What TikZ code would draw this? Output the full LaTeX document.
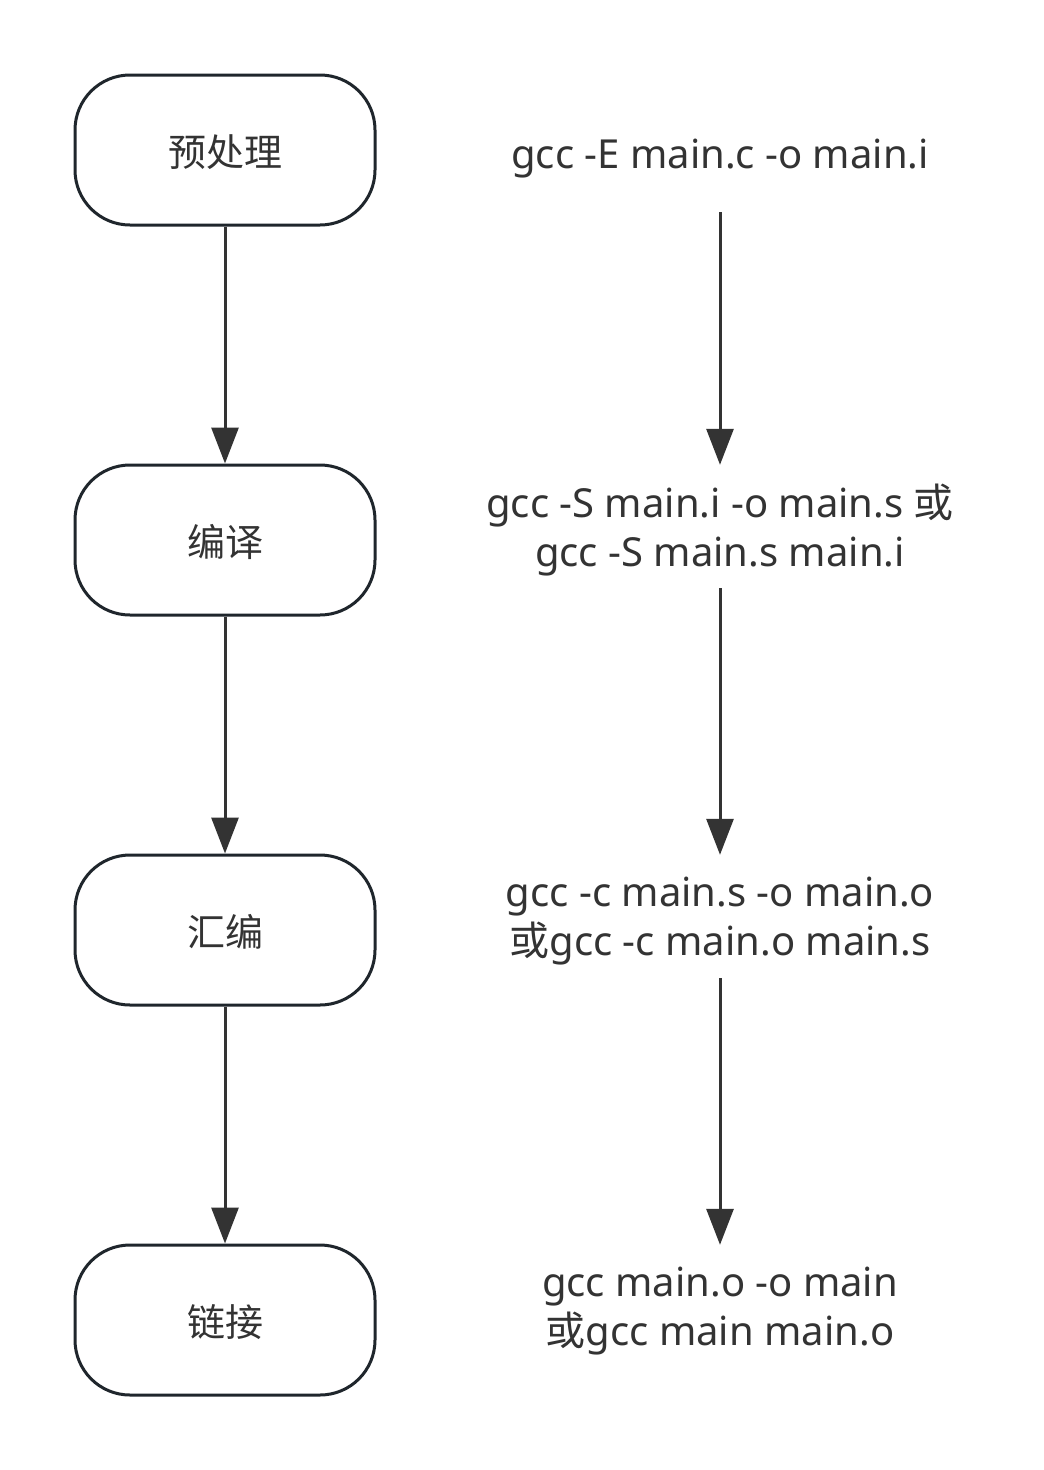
\documentclass[tikz,border=0pt]{standalone}
\usepackage{fontspec}
\setmainfont{Noto Sans}
\newfontfamily\cjk{Noto Sans CJK SC}
\usetikzlibrary{arrows.meta}
\definecolor{edge}{HTML}{1F262C}
\definecolor{ink}{HTML}{333333}
\newcommand\lowered[2]{\raisebox{-#1}[\height][\depth]{\begin{tabular}{@{}c@{}}#2\end{tabular}}}
\begin{document}
\begin{tikzpicture}[x=1pt,y=-1pt,
  stage/.style={draw=edge,line width=3pt,rounded corners=55pt,minimum width=300pt,minimum height=150pt,fill=white,text=ink,font=\cjk\fontsize{38}{46}\selectfont,inner sep=0pt},
  cmd/.style={text=ink,font=\fontsize{40}{49}\selectfont,align=center,minimum width=480pt,minimum height=123pt,inner sep=0pt},
  arr/.style={draw=ink,line width=3pt,-{Triangle[width=27pt,length=36pt]}}]
\useasboundingbox[fill=white] (0,0) rectangle (1044,1470);
\node[stage] (s1) at (225,150) {\lowered{7pt}{预处理}};
\node[stage] (s2) at (225,540) {\lowered{7pt}{编译}};
\node[stage] (s3) at (225,930) {\lowered{7pt}{汇编}};
\node[stage] (s4) at (225,1320) {\lowered{7pt}{链接}};
\node[cmd,minimum height=124pt] (t1) at (720,150) {\lowered{9pt}{gcc -E main.c -o main.i}};
\node[cmd] (t2) at (720,526.5) {\lowered{6pt}{gcc -S main.i -o main.s {\cjk 或}\\gcc -S main.s main.i}};
\node[cmd] (t3) at (720,916.5) {\lowered{5pt}{gcc -c main.s -o main.o\\{\cjk 或}gcc -c main.o main.s}};
\node[cmd] (t4) at (720,1306.5) {\lowered{5pt}{gcc main.o -o main\\{\cjk 或}gcc main main.o}};
\draw[arr] (s1) -- (s2);
\draw[arr] (s2) -- (s3);
\draw[arr] (s3) -- (s4);
\draw[arr] (t1) -- (t2);
\draw[arr] (t2) -- (t3);
\draw[arr] (t3) -- (t4);
\end{tikzpicture}
\end{document}
